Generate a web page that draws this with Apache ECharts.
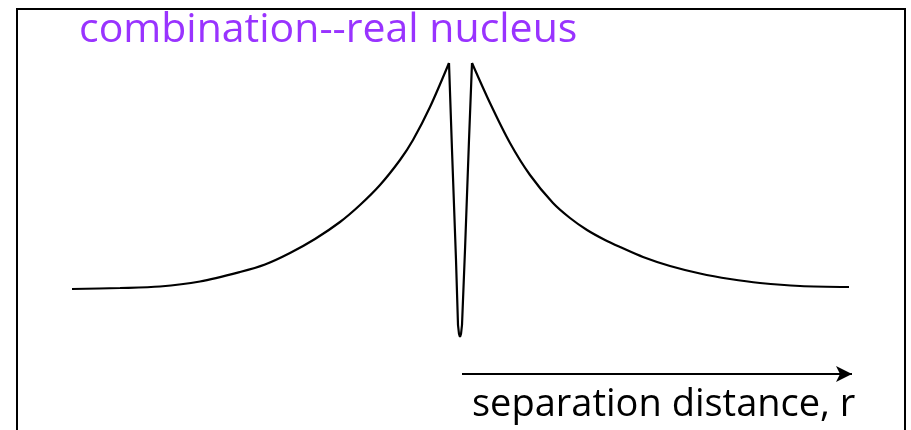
<!DOCTYPE html>
<html>
<head>
<meta charset="utf-8">
<script src="https://cdn.jsdelivr.net/npm/echarts@6/dist/echarts.min.js"></script>
<style>html,body{margin:0;padding:0;background:#fff}#c{width:911px;height:430px}</style>
</head>
<body>
<div id="c"></div>
<script>
// separation distance r (arbitrary units, 0 = nucleus centre) and potential (arbitrary units)
const leftR = [-3.88,-3.40,-3.00,-2.60,-2.20,-1.95,-1.70,-1.45,-1.20,-1.00,-0.80,-0.60,-0.47,-0.30,-0.11];
const leftV = [0.00,0.01,0.025,0.075,0.17,0.245,0.36,0.50,0.67,0.84,1.04,1.29,1.49,1.82,2.26];
const coreR = [-0.11,-0.08,-0.04,-0.02,-0.01,0.00,0.01,0.02,0.05,0.09,0.12];
const coreV = [2.26,1.39,0.29,-0.36,-0.45,-0.48,-0.45,-0.36,0.39,1.49,2.26];
const rightR = [0.12,0.30,0.50,0.70,0.93,1.10,1.27,1.45,1.60,1.83,2.10,2.40,2.70,3.00,3.40,3.89];
const rightV = [2.26,1.86,1.46,1.14,0.86,0.71,0.59,0.49,0.42,0.32,0.23,0.155,0.10,0.06,0.03,0.02];
const titleText = 'combination--real nucleus';
const axisLabel = 'separation distance, r';
const arrowFrom = [0.02, -0.85];
const arrowTo = [3.92, -0.85];

const pairs = (xs, ys) => xs.map((x, i) => [x, ys[i]]);
const lineSeries = (data, smooth) => ({
  type: 'line', data, showSymbol: false, smooth,
  lineStyle: {color: '#000', width: 2.2}
});

const chart = echarts.init(document.getElementById('c'));
chart.setOption({
  animation: false,
  backgroundColor: '#fff',
  grid: {left: 0, top: 0, width: 911, height: 430, containLabel: false},
  xAxis: {type: 'value', min: -4.6, max: 4.51, show: false},
  yAxis: {type: 'value', min: -1.41, max: 2.89, show: false},
  title: {
    text: titleText, left: 74, top: 5,
    textStyle: {color: '#9933FF', fontSize: 41, fontWeight: 'normal', fontFamily: 'Open Sans'}
  },
  graphic: [
    {type: 'rect', shape: {x: 17, y: 9, width: 888, height: 440}, style: {fill: 'none', stroke: '#000', lineWidth: 2}},
    {type: 'text', left: 472, top: 386, style: {text: axisLabel, fontSize: 38, fontFamily: 'Open Sans', fill: '#000'}}
  ],
  series: [
    lineSeries(pairs(leftR, leftV), 0.3),
    lineSeries(pairs(coreR, coreV), false),
    Object.assign(lineSeries(pairs(rightR, rightV), 0.3), {
      markLine: {
        silent: true,
        symbol: ['none', 'arrow'],
        symbolSize: [12, 16],
        label: {show: false},
        lineStyle: {color: '#000', width: 2, type: 'solid'},
        data: [[{coord: arrowFrom}, {coord: arrowTo}]]
      }
    })
  ]
});
</script>
</body>
</html>
